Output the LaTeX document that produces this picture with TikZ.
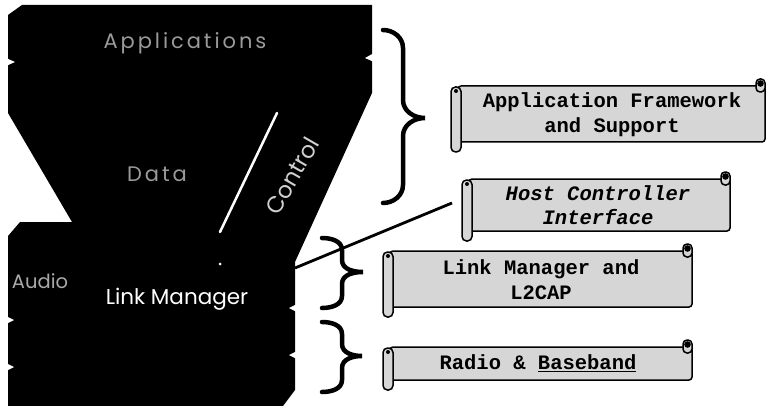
\documentclass[tikz,border=0pt]{standalone}
\usepackage{fontspec}
\setmainfont{Liberation Serif}
\newfontfamily\geo{Poppins}
\newfontfamily\geosp[LetterSpace=14]{Poppins}
\newfontfamily\mono{Liberation Mono}
\definecolor{scrollgray}{HTML}{D6D6D6}
\definecolor{dimtxt}{HTML}{9A9A9A}
\definecolor{ctrltxt}{HTML}{D0D0D0}
\newcommand{\myscroll}[5]{%
  % #1 name, #2 x0, #3 x1, #4 y0, #5 y1
  \filldraw[scrollbody, rounded corners=3pt] (#2,#4) rectangle (#3,#5);
  \filldraw[scrollbody, rounded corners=4pt] (#3-9,#4+6) rectangle (#3,#4-7);
  \fill (#3-4.5,#4-2.5) circle (3.3);
  \filldraw[scrollbody, rounded corners=4.5pt] (#2-7,#4+1) rectangle (#2+3,#5+10);
  \fill (#2-2,#4+5) circle (2);
  \coordinate (#1) at (#2-7,{(#4+#5)/2});
}
\begin{document}
\begin{tikzpicture}[x=1pt,y=-1pt,
  scrollbody/.style={fill=scrollgray, draw=black, line width=1.5pt},
  bracestyle/.style={line width=4.5pt, line cap=round},
  scrolltext/.style={font=\mono\bfseries\fontsize{20.5}{25}\selectfont, align=center, inner sep=0pt},
  dimtext/.style={font=\geosp\fontsize{21}{24}\selectfont, text=dimtxt, inner sep=0pt},
  notch/.style={fill=white}]
\useasboundingbox (0,0) rectangle (767,406);

% black stack
\fill[black] (22,5) -- (372,5) -- (372,93) -- (295,262) -- (295,390) -- (283,406)
  -- (8,406) -- (8,236) -- (20,222) -- (72,222) -- (8,113) -- (8,15) -- cycle;
% notches
\fill[notch] (6,58) -- (15,62) -- (6,66) -- cycle;
\fill[notch] (374,53) -- (365,58) -- (374,62) -- cycle;
\fill[notch] (6,316) -- (14,320) -- (6,324) -- cycle;
\fill[notch] (6,363) -- (14,367) -- (6,371) -- cycle;
\fill[notch] (297,304) -- (289,308) -- (297,312) -- cycle;
\fill[notch] (297,351) -- (289,355) -- (297,359) -- cycle;

% white divider between Data and Control
\draw[white, line width=2.5pt, line cap=round] (277,113) -- (220,232);
\fill[white] (220,264) circle (1.5);

% texts on the stack
\node[dimtext] (apps) at (185,43) {Applications};
\node[dimtext] (data) at (157,174) {Data};
\node[font=\geo\fontsize{19.5}{22}\selectfont, text=dimtxt!85!white, inner sep=0pt] (audio) at (40,281) {Audio};
\node[font=\geo\fontsize{23}{26}\selectfont, text=ctrltxt, rotate=60, inner sep=0pt] (ctrl) at (292,176) {Control};
\node[font=\geo\fontsize{21.5}{24}\selectfont, text=white, inner sep=0pt] (lm) at (177,299) {Link Manager};

% braces
\draw[bracestyle] (383,30) to[out=0,in=90] (403,48) -- (403,100) to[out=-90,in=180] (425,118)
  to[out=180,in=90] (403,136) -- (403,185) to[out=-90,in=0] (383,203);
\draw[bracestyle] (322,238) to[out=0,in=90] (342,250) -- (342,260) to[out=-90,in=180] (363,272)
  to[out=180,in=90] (342,284) -- (342,296) to[out=-90,in=0] (322,308);
\draw[bracestyle] (322,322) to[out=0,in=90] (342,334) -- (342,344) to[out=-90,in=180] (362,356)
  to[out=180,in=90] (342,368) -- (342,380) to[out=-90,in=0] (322,392);

% scrolls
\myscroll{sAFS}{458}{765}{86}{142}
\node[scrolltext] (afs) at (612,115) {Application Framework\\and Support};
\myscroll{sHCI}{469}{730}{179}{231}
\node[scrolltext, font=\mono\bfseries\itshape\fontsize{20.5}{24}\selectfont] (hci) at (598,205) {Host Controller\\Interface};
\myscroll{sLM}{390}{692}{251}{307}
\node[scrolltext] (lml2) at (541,280) {Link Manager and\\L2CAP};
\myscroll{sRB}{390}{692}{347}{380}
\node[scrolltext] (rb) at (538,363) {Radio \& \underline{Baseband}};

% connector Link Manager -> HCI
\coordinate (lmR) at (295,268);
\coordinate (hciTip) at (452,203);
\draw[line width=2.8pt] (lmR) -- (hciTip);
\end{tikzpicture}
\end{document}
